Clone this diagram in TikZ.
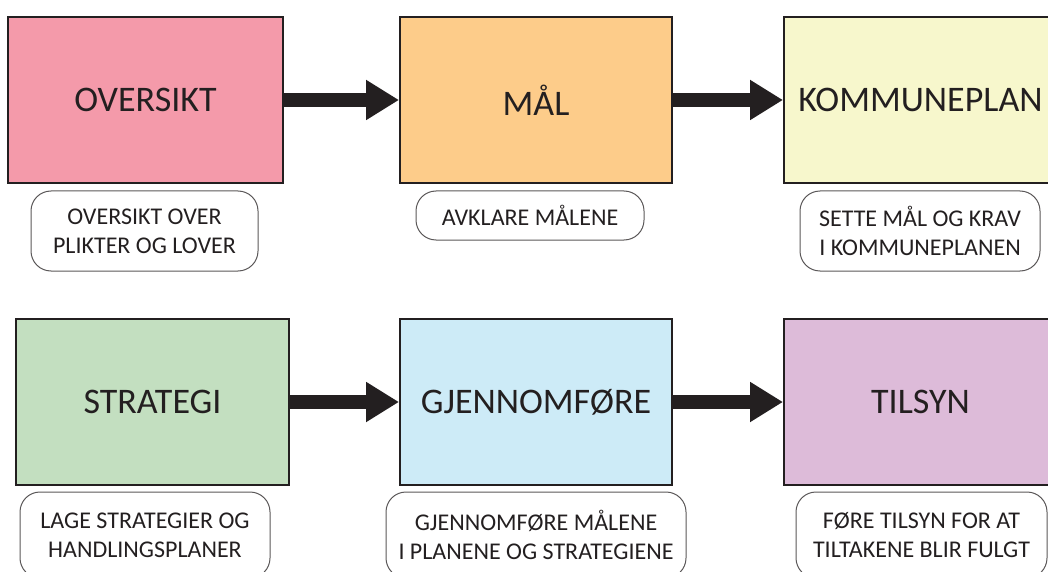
\documentclass[tikz,border=0pt]{standalone}
\usepackage{fontspec}
\setmainfont{Carlito}
\usetikzlibrary{arrows.meta}

\definecolor{ink}{RGB}{35,31,32}
\definecolor{pinkfill}{RGB}{244,154,170}
\definecolor{orangefill}{RGB}{253,204,138}
\definecolor{yellowfill}{RGB}{247,247,204}
\definecolor{greenfill}{RGB}{195,223,192}
\definecolor{bluefill}{RGB}{205,235,247}
\definecolor{lilacfill}{RGB}{221,187,217}

\begin{document}
\begin{tikzpicture}[x=0.5pt, y=-0.5pt,
    stage/.style={draw=ink, line width=1pt, text=ink, minimum height=83pt,
        font=\fontsize{18}{20}\selectfont},
    note/.style={draw=ink!75, line width=0.5pt, rounded corners=10pt, text=ink,
        align=center, font=\fontsize{12}{14.5}\selectfont},
    flow/.style={draw=ink, line width=7pt, -{Triangle[length=16.5pt, width=19pt]}}]

    \useasboundingbox (0,0) rectangle (1048,572);
    \clip (0,0) rectangle (1048,572);

    \draw(145.5,100) node[stage, fill=pinkfill, minimum width=137.5pt] (over) {OVERSIKT};
    \draw(536,100) node[stage, fill=orangefill, minimum width=136pt] (maal) {MÅL};
    \draw(920.5,100) node[stage, fill=yellowfill, minimum width=136.5pt] (komm) {KOMMUNEPLAN};

    \draw(152.5,402) node[stage, fill=greenfill, minimum width=136.5pt] (strat) {STRATEGI};
    \draw(536,402) node[stage, fill=bluefill, minimum width=136pt] (gjen) {GJENNOMFØRE};
    \draw(920.5,402) node[stage, fill=lilacfill, minimum width=136.5pt] (tils) {TILSYN};

    \draw(144.5,231) node[note, minimum width=113.5pt, minimum height=40pt] (overnote)
        {OVERSIKT OVER\\PLIKTER OG LOVER};
    \draw(530,215.5) node[note, minimum width=114pt, minimum height=24.5pt] (maalnote)
        {AVKLARE MÅLENE};
    \draw(920,231) node[note, minimum width=120pt, minimum height=40pt] (kommnote)
        {SETTE MÅL OG KRAV\\I KOMMUNEPLANEN};

    \draw(145,535) node[note, minimum width=125pt, minimum height=43pt] (stratnote)
        {LAGE STRATEGIER OG\\HANDLINGSPLANER};
    \draw(536,535) node[note, minimum width=150pt, minimum height=43pt] (gjennote)
        {GJENNOMFØRE MÅLENE\\I PLANENE OG STRATEGIENE};
    \draw(921.5,535) node[note, minimum width=125.5pt, minimum height=43pt] (tilsnote)
        {FØRE TILSYN FOR AT\\TILTAKENE BLIR FULGT};

    \draw[flow] (over) to (maal);
    \draw[flow] (maal) to (komm);
    \draw[flow] (strat) to (gjen);
    \draw[flow] (gjen) to (tils);

\end{tikzpicture}
\end{document}
